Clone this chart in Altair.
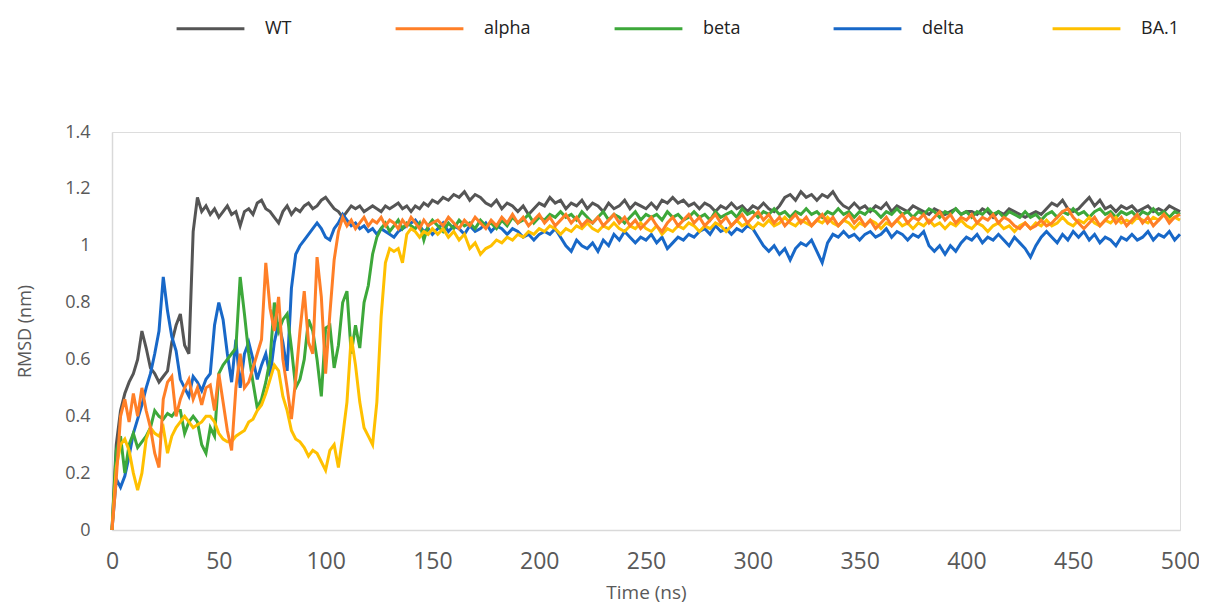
import altair as alt
import pandas as pd

SERIES = ["WT", "alpha", "beta", "delta", "BA.1"]
COLORS = ["#555555", "#FF7F27", "#3DA83A", "#1868C8", "#FFC000"]
DRAW_ORDER = ["WT", "delta", "beta", "BA.1", "alpha"]

# time grids (ns)
T_EARLY = [2 * i for i in range(76)]            # 0 .. 150
T_LATE = [152.5 + 2.5 * i for i in range(140)]  # 152.5 .. 500

WT_EARLY = [0.00, 0.30, 0.42, 0.48, 0.52, 0.55, 0.60, 0.70, 0.64, 0.57,
            0.55, 0.52, 0.54, 0.56, 0.66, 0.72, 0.76, 0.65, 0.62, 1.05,
            1.17, 1.12, 1.14, 1.11, 1.13, 1.10, 1.12, 1.14, 1.11, 1.12,
            1.07, 1.12, 1.13, 1.11, 1.15, 1.16, 1.13, 1.12, 1.10, 1.08,
            1.12, 1.14, 1.11, 1.13, 1.12, 1.14, 1.15, 1.13, 1.14, 1.16,
            1.17, 1.15, 1.13, 1.12, 1.10, 1.12, 1.14, 1.13, 1.14, 1.12,
            1.13, 1.14, 1.13, 1.12, 1.14, 1.13, 1.14, 1.15, 1.13, 1.14,
            1.12, 1.14, 1.13, 1.15, 1.14, 1.16]
WT_LATE = [1.15, 1.17, 1.16, 1.18, 1.17, 1.19, 1.16, 1.18, 1.17, 1.15,
           1.14, 1.16, 1.13, 1.15, 1.14, 1.12, 1.14, 1.11, 1.13, 1.15,
           1.14, 1.17, 1.15, 1.16, 1.13, 1.15, 1.14, 1.16, 1.13, 1.15,
           1.14, 1.12, 1.15, 1.13, 1.14, 1.16, 1.13, 1.15, 1.14, 1.13,
           1.15, 1.13, 1.16, 1.15, 1.17, 1.15, 1.16, 1.14, 1.15, 1.13,
           1.15, 1.14, 1.12, 1.14, 1.13, 1.15, 1.13, 1.14, 1.12, 1.14,
           1.13, 1.15, 1.13, 1.12, 1.14, 1.17, 1.18, 1.16, 1.19, 1.17,
           1.18, 1.16, 1.18, 1.17, 1.19, 1.16, 1.14, 1.13, 1.15, 1.13,
           1.14, 1.12, 1.14, 1.13, 1.15, 1.12, 1.14, 1.13, 1.12, 1.14,
           1.13, 1.12, 1.11, 1.13, 1.12, 1.11, 1.12, 1.13, 1.11, 1.12,
           1.12, 1.11, 1.13, 1.12, 1.10, 1.12, 1.11, 1.13, 1.12, 1.11,
           1.10, 1.11, 1.12, 1.11, 1.13, 1.15, 1.14, 1.16, 1.13, 1.12,
           1.13, 1.15, 1.17, 1.14, 1.16, 1.13, 1.14, 1.12, 1.14, 1.13,
           1.14, 1.12, 1.13, 1.14, 1.12, 1.13, 1.12, 1.14, 1.13, 1.12]

ALPHA_EARLY = [0.00, 0.18, 0.40, 0.46, 0.38, 0.48, 0.40, 0.50, 0.42, 0.36,
               0.27, 0.22, 0.46, 0.52, 0.54, 0.40, 0.46, 0.50, 0.53, 0.46,
               0.50, 0.44, 0.50, 0.51, 0.42, 0.55, 0.45, 0.35, 0.28, 0.50,
               0.62, 0.50, 0.52, 0.57, 0.62, 0.67, 0.94, 0.78, 0.70, 0.82,
               0.60, 0.50, 0.39, 0.53, 0.70, 0.84, 0.66, 0.62, 0.96, 0.82,
               0.55, 0.76, 0.95, 1.05, 1.10, 1.07, 1.09, 1.06, 1.08, 1.10,
               1.07, 1.09, 1.08, 1.10, 1.07, 1.09, 1.08, 1.06, 1.09, 1.07,
               1.10, 1.08, 1.06, 1.09, 1.07, 1.08]
ALPHA_LATE = [1.09, 1.07, 1.10, 1.08, 1.06, 1.09, 1.07, 1.10, 1.08, 1.06,
              1.09, 1.07, 1.10, 1.08, 1.11, 1.08, 1.10, 1.07, 1.09, 1.11,
              1.08, 1.10, 1.07, 1.09, 1.11, 1.08, 1.10, 1.07, 1.09, 1.08,
              1.10, 1.07, 1.09, 1.11, 1.08, 1.10, 1.07, 1.09, 1.06, 1.08,
              1.10, 1.07, 1.05, 1.08, 1.10, 1.07, 1.09, 1.11, 1.08, 1.10,
              1.07, 1.09, 1.11, 1.08, 1.10, 1.07, 1.09, 1.11, 1.08, 1.10,
              1.12, 1.09, 1.11, 1.08, 1.10, 1.07, 1.09, 1.11, 1.08, 1.10,
              1.07, 1.09, 1.11, 1.08, 1.10, 1.07, 1.09, 1.11, 1.08, 1.10,
              1.07, 1.09, 1.06, 1.08, 1.10, 1.07, 1.09, 1.11, 1.08, 1.10,
              1.09, 1.11, 1.08, 1.10, 1.12, 1.09, 1.11, 1.08, 1.10, 1.09,
              1.11, 1.08, 1.10, 1.09, 1.11, 1.08, 1.10, 1.09, 1.07, 1.06,
              1.08, 1.06, 1.07, 1.09, 1.07, 1.08, 1.10, 1.12, 1.13, 1.10,
              1.08, 1.06, 1.08, 1.10, 1.07, 1.09, 1.11, 1.08, 1.10, 1.07,
              1.09, 1.11, 1.08, 1.10, 1.07, 1.09, 1.11, 1.08, 1.10, 1.11]

BETA_EARLY = [0.00, 0.28, 0.33, 0.20, 0.30, 0.34, 0.29, 0.31, 0.33, 0.36,
              0.42, 0.40, 0.39, 0.41, 0.40, 0.42, 0.42, 0.34, 0.38, 0.40,
              0.38, 0.30, 0.27, 0.36, 0.33, 0.55, 0.58, 0.60, 0.62, 0.64,
              0.89, 0.76, 0.62, 0.52, 0.43, 0.46, 0.52, 0.60, 0.80, 0.70,
              0.74, 0.76, 0.64, 0.50, 0.53, 0.60, 0.74, 0.70, 0.60, 0.47,
              0.71, 0.72, 0.57, 0.65, 0.80, 0.84, 0.62, 0.72, 0.64, 0.80,
              0.86, 0.97, 1.03, 1.06, 1.08, 1.05, 1.07, 1.09, 1.06, 1.08,
              1.07, 1.06, 1.08, 1.02, 1.07, 1.09]
BETA_LATE = [1.07, 1.05, 1.08, 1.06, 1.09, 1.07, 1.08, 1.06, 1.09, 1.07,
             1.08, 1.06, 1.09, 1.07, 1.10, 1.08, 1.09, 1.11, 1.08, 1.10,
             1.09, 1.11, 1.10, 1.12, 1.10, 1.11, 1.09, 1.12, 1.10, 1.08,
             1.10, 1.12, 1.09, 1.11, 1.10, 1.08, 1.10, 1.12, 1.09, 1.11,
             1.10, 1.11, 1.09, 1.12, 1.10, 1.11, 1.09, 1.10, 1.12, 1.10,
             1.11, 1.09, 1.12, 1.10, 1.11, 1.12, 1.10, 1.13, 1.11, 1.12,
             1.10, 1.12, 1.11, 1.13, 1.11, 1.12, 1.10, 1.12, 1.11, 1.13,
             1.11, 1.12, 1.10, 1.12, 1.11, 1.13, 1.11, 1.12, 1.10, 1.12,
             1.11, 1.13, 1.12, 1.10, 1.12, 1.11, 1.13, 1.11, 1.12, 1.10,
             1.12, 1.11, 1.13, 1.12, 1.10, 1.12, 1.11, 1.13, 1.11, 1.12,
             1.10, 1.12, 1.11, 1.13, 1.11, 1.12, 1.10, 1.12, 1.11, 1.10,
             1.12, 1.10, 1.11, 1.09, 1.11, 1.12, 1.10, 1.12, 1.11, 1.13,
             1.11, 1.12, 1.10, 1.12, 1.13, 1.11, 1.12, 1.10, 1.12, 1.11,
             1.12, 1.10, 1.12, 1.11, 1.13, 1.11, 1.12, 1.10, 1.12, 1.11]

DELTA_EARLY = [0.00, 0.18, 0.15, 0.19, 0.26, 0.34, 0.39, 0.44, 0.50, 0.55,
               0.62, 0.70, 0.89, 0.77, 0.68, 0.63, 0.53, 0.50, 0.47, 0.54,
               0.52, 0.49, 0.53, 0.55, 0.72, 0.80, 0.74, 0.62, 0.52, 0.67,
               0.50, 0.62, 0.66, 0.60, 0.53, 0.58, 0.62, 0.54, 0.66, 0.73,
               0.66, 0.56, 0.85, 0.97, 1.00, 1.02, 1.04, 1.06, 1.08, 1.06,
               1.03, 1.02, 1.06, 1.08, 1.11, 1.09, 1.07, 1.08, 1.06, 1.07,
               1.05, 1.06, 1.04, 1.06, 1.05, 1.04, 1.03, 1.05, 1.06, 1.07,
               1.08, 1.09, 1.07, 1.05, 1.06, 1.04]
DELTA_LATE = [1.06, 1.08, 1.05, 1.07, 1.06, 1.04, 1.07, 1.05, 1.06, 1.08,
              1.05, 1.07, 1.06, 1.04, 1.06, 1.05, 1.03, 1.04, 1.02, 1.04,
              1.05, 1.04, 1.06, 1.03, 1.00, 0.98, 1.02, 1.00, 0.99, 1.01,
              0.98, 1.02, 1.00, 1.04, 1.02, 1.05, 1.03, 1.01, 1.03, 1.02,
              1.04, 1.01, 1.03, 0.99, 1.01, 1.03, 1.02, 1.04, 1.03, 1.05,
              1.06, 1.04, 1.07, 1.05, 1.06, 1.04, 1.06, 1.05, 1.07, 1.06,
              1.03, 1.00, 0.98, 1.00, 0.97, 0.99, 0.95, 0.99, 1.01, 1.00,
              1.02, 0.98, 0.94, 1.01, 1.04, 1.03, 1.05, 1.03, 1.04, 1.02,
              1.04, 1.05, 1.03, 1.04, 1.06, 1.03, 1.05, 1.04, 1.02, 1.04,
              1.03, 1.05, 1.00, 0.98, 1.00, 0.97, 1.00, 0.98, 1.01, 1.03,
              1.02, 1.04, 1.01, 1.03, 1.02, 1.04, 1.02, 1.00, 1.03, 1.01,
              0.99, 0.96, 1.00, 1.03, 1.05, 1.03, 1.01, 1.04, 1.02, 1.05,
              1.03, 1.05, 1.02, 1.04, 1.01, 1.03, 1.02, 1.00, 1.03, 1.02,
              1.04, 1.02, 1.03, 1.05, 1.02, 1.04, 1.03, 1.05, 1.02, 1.04]

BA1_EARLY = [0.00, 0.22, 0.30, 0.32, 0.28, 0.20, 0.14, 0.20, 0.32, 0.36,
             0.34, 0.33, 0.36, 0.27, 0.33, 0.36, 0.38, 0.40, 0.38, 0.36,
             0.37, 0.38, 0.40, 0.40, 0.38, 0.34, 0.32, 0.31, 0.31, 0.33,
             0.34, 0.35, 0.38, 0.39, 0.42, 0.44, 0.48, 0.53, 0.58, 0.56,
             0.47, 0.42, 0.35, 0.32, 0.31, 0.29, 0.26, 0.28, 0.27, 0.24,
             0.21, 0.28, 0.30, 0.22, 0.33, 0.45, 0.68, 0.58, 0.45, 0.36,
             0.33, 0.30, 0.45, 0.75, 0.94, 0.99, 0.98, 0.99, 0.94, 1.04,
             1.06, 1.05, 1.03, 1.05, 1.04, 1.06]
BA1_LATE = [1.04, 1.06, 1.03, 1.05, 1.02, 1.04, 0.99, 1.01, 0.97, 0.99,
            1.00, 1.02, 1.01, 1.03, 1.02, 1.04, 1.03, 1.05, 1.04, 1.06,
            1.05, 1.07, 1.06, 1.04, 1.06, 1.05, 1.07, 1.06, 1.08, 1.06,
            1.05, 1.07, 1.06, 1.08, 1.06, 1.05, 1.07, 1.06, 1.08, 1.06,
            1.05, 1.07, 1.04, 1.06, 1.05, 1.07, 1.06, 1.08, 1.07, 1.05,
            1.07, 1.06, 1.08, 1.07, 1.05, 1.07, 1.09, 1.07, 1.08, 1.06,
            1.08, 1.07, 1.09, 1.07, 1.08, 1.10, 1.08, 1.07, 1.09, 1.08,
            1.07, 1.09, 1.08, 1.10, 1.08, 1.07, 1.09, 1.08, 1.06, 1.08,
            1.07, 1.09, 1.08, 1.06, 1.08, 1.07, 1.09, 1.07, 1.08, 1.06,
            1.08, 1.07, 1.09, 1.07, 1.08, 1.06, 1.08, 1.07, 1.09, 1.07,
            1.06, 1.08, 1.07, 1.05, 1.07, 1.08, 1.06, 1.07, 1.05, 1.07,
            1.08, 1.06, 1.08, 1.07, 1.09, 1.07, 1.08, 1.10, 1.08, 1.07,
            1.09, 1.08, 1.10, 1.08, 1.07, 1.09, 1.08, 1.10, 1.08, 1.09,
            1.08, 1.10, 1.09, 1.08, 1.10, 1.09, 1.11, 1.09, 1.10, 1.09]

VALUES = {
    "WT": WT_EARLY + WT_LATE,
    "alpha": ALPHA_EARLY + ALPHA_LATE,
    "beta": BETA_EARLY + BETA_LATE,
    "delta": DELTA_EARLY + DELTA_LATE,
    "BA.1": BA1_EARLY + BA1_LATE,
}
TIMES = T_EARLY + T_LATE

rows = []
for name in SERIES:
    for t, v in zip(TIMES, VALUES[name]):
        rows.append({"t": t, "v": v, "series": name})
df = pd.DataFrame(rows)

FONT = "Open Sans"
GREY = "#595959"

x_enc = alt.X(
    "t:Q",
    scale=alt.Scale(domain=[0, 500], nice=False, zero=False),
    axis=alt.Axis(
        values=[0, 50, 100, 150, 200, 250, 300, 350, 400, 450, 500],
        title="Time (ns)", grid=False, ticks=False, tickSize=0,
        labelFontSize=23, labelColor=GREY, labelPadding=20, labelFont=FONT,
        titleFontSize=19, titleColor=GREY, titleFont=FONT, titleFontWeight="normal",
        titlePadding=10, domainColor="#d9d9d9", domainWidth=1.5, labelFlush=False,
    ),
)
y_enc = alt.Y(
    "v:Q",
    scale=alt.Scale(domain=[0, 1.4], nice=False),
    axis=alt.Axis(
        values=[0, 0.2, 0.4, 0.6, 0.8, 1.0, 1.2, 1.4], format="~g",
        title="RMSD (nm)", grid=False, ticks=False, tickSize=0,
        labelFontSize=18, labelColor=GREY, labelPadding=22, labelFont=FONT,
        titleFontSize=18, titleColor=GREY, titleFont=FONT, titleFontWeight="normal",
        titlePadding=30, domainColor="#d9d9d9", domainWidth=1.5,
    ),
)
color_enc = alt.Color(
    "series:N",
    scale=alt.Scale(domain=SERIES, range=COLORS),
    legend=alt.Legend(
        title=None, orient="none", direction="horizontal", columns=5,
        legendX=63, legendY=-139, symbolType="stroke", symbolSize=4600,
        symbolStrokeWidth=3, labelFontSize=18, labelFont=FONT, labelColor="#222222",
        labelOffset=19, columnPadding=77, gridAlign="all", padding=0,
    ),
)

layers = []
for name in DRAW_ORDER:
    layers.append(
        alt.Chart(df)
        .transform_filter(alt.datum.series == name)
        .mark_line(strokeWidth=3)
        .encode(x=x_enc, y=y_enc, color=color_enc)
    )

chart = (
    alt.layer(*layers)
    .properties(
        width=1068, height=398,
        autosize=alt.AutoSizeParams(type="none"),
        padding={"left": 104, "top": 124, "right": 19, "bottom": 76},
    )
    .configure_view(stroke=None)
    .configure(background="white")
)

chart.save("out.html", embed_options={"renderer": "svg", "actions": False})
